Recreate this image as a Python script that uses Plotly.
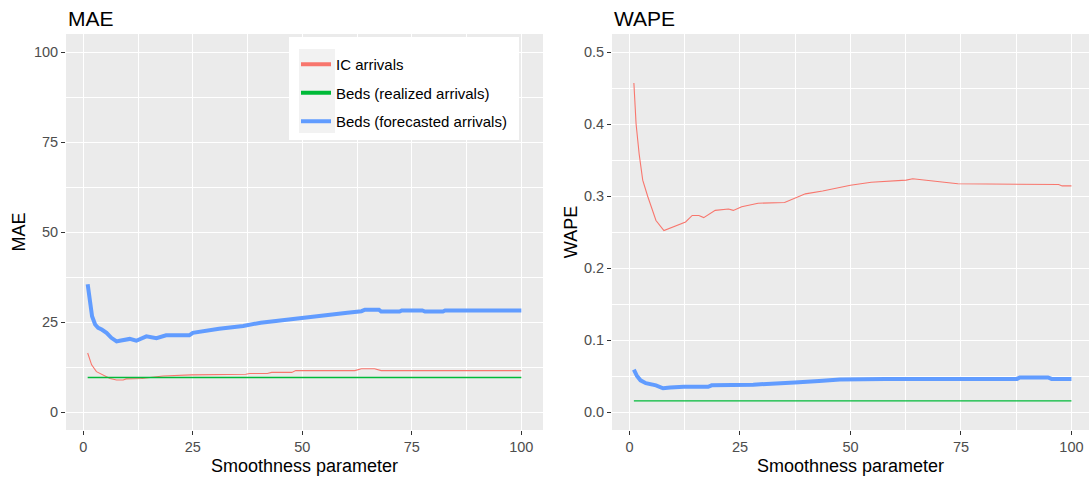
import plotly.graph_objects as go

# ---------------- data ----------------
smooth_ic_mae = [1, 1.9, 3.0, 4.5, 6.1, 7.6, 9.1, 9.8, 13.3, 18.2, 24.6, 37.1, 38, 42, 43, 47.6, 48.5, 62, 63.5, 66.5, 68, 100]
ic_mae = [16.4, 13.1, 11.2, 10.3, 9.3, 8.9, 8.9, 9.2, 9.3, 10.0, 10.3, 10.5, 10.7, 10.7, 11.0, 11.0, 11.5, 11.5, 12.0, 12.0, 11.5, 11.5]

smooth_bedsr_mae = [1, 100]
bedsr_mae = [9.6, 9.6]

smooth_bedsf_mae = [1, 1.7, 2, 2.7, 3.4, 4.2, 5.3, 6.4, 7.6, 8.3, 10.6, 12.1, 14.4, 16.7, 18.9, 24.2, 25,
                    31, 36.5, 40.5, 44.4, 48.4, 52.4, 56.3, 60.3, 63.5, 64.3, 67.5, 68, 72.2, 72.7, 77.4,
                    78, 82.1, 82.6, 100]
bedsf_mae = [35.5, 28.5, 26.6, 24.3, 23.4, 22.9, 22.0, 20.6, 19.6, 19.8, 20.3, 19.8, 21.0, 20.5, 21.3, 21.3, 22.0,
             23.1, 23.9, 24.8, 25.4, 25.9, 26.5, 27.1, 27.6, 28.0, 28.4, 28.4, 27.9, 27.9, 28.2, 28.2,
             27.9, 27.9, 28.2, 28.2]

smooth_ic_wape = [1, 1.5, 2.2, 3.0, 4.1, 6.0, 7.8, 9.7, 12.7, 14.2, 15.7, 16.8, 19.4, 22.4, 23.5, 25.4, 29.1,
                  35.1, 37.4, 39.8, 43.7, 47.6, 50, 54.7, 59.4, 62.6, 64.1, 66.5, 71.2, 74.3, 83, 97.1, 97.9, 100]
ic_wape = [0.457, 0.400, 0.358, 0.322, 0.300, 0.266, 0.252, 0.257, 0.264, 0.273, 0.273, 0.270, 0.280, 0.282,
           0.280, 0.285, 0.290, 0.291, 0.297, 0.303, 0.307, 0.312, 0.315, 0.319, 0.321, 0.322, 0.324, 0.322,
           0.319, 0.317, 0.317, 0.316, 0.314, 0.314]

smooth_bedsr_wape = [1, 100]
bedsr_wape = [0.0155, 0.0155]

smooth_bedsf_wape = [1, 1.7, 2.5, 3.7, 6, 7.6, 9.2, 12.3, 17.8, 18.6, 28, 32.7, 37.4, 42.9, 47.6, 57.8, 87.7,
                     88.3, 94.7, 95.5, 100]
bedsf_wape = [0.059, 0.050, 0.044, 0.040, 0.037, 0.033, 0.034, 0.035, 0.035, 0.037, 0.038, 0.039, 0.041,
              0.043, 0.045, 0.046, 0.046, 0.048, 0.048, 0.046, 0.046]

series_names = ["IC arrivals", "Beds (realized arrivals)", "Beds (forecasted arrivals)"]
x_ticks = [0, 25, 50, 75, 100]
mae_ticks = [0, 25, 50, 75, 100]
wape_ticks = [0.0, 0.1, 0.2, 0.3, 0.4, 0.5]

# ---------------- styling ----------------
RED, GREEN, BLUE = "#F8766D", "#00BA38", "#619CFF"
W, H = 1089, 478
FONT = "Arial, 'Liberation Sans', sans-serif"


def px_x(p):
    return p / W


def px_y(p):
    return (H - p) / H


fig = go.Figure()

# left panel (MAE)
fig.add_trace(go.Scatter(x=smooth_ic_mae, y=ic_mae, mode="lines", line=dict(color=RED, width=1.1),
                         showlegend=False, xaxis="x", yaxis="y"))
fig.add_trace(go.Scatter(x=smooth_bedsr_mae, y=bedsr_mae, mode="lines", line=dict(color=GREEN, width=1.4),
                         showlegend=False, xaxis="x", yaxis="y"))
fig.add_trace(go.Scatter(x=smooth_bedsf_mae, y=bedsf_mae, mode="lines", line=dict(color=BLUE, width=4),
                         showlegend=False, xaxis="x", yaxis="y"))
# right panel (WAPE)
fig.add_trace(go.Scatter(x=smooth_ic_wape, y=ic_wape, mode="lines", line=dict(color=RED, width=1.1),
                         showlegend=False, xaxis="x2", yaxis="y2"))
fig.add_trace(go.Scatter(x=smooth_bedsr_wape, y=bedsr_wape, mode="lines", line=dict(color=GREEN, width=1.4),
                         showlegend=False, xaxis="x2", yaxis="y2"))
fig.add_trace(go.Scatter(x=smooth_bedsf_wape, y=bedsf_wape, mode="lines", line=dict(color=BLUE, width=4),
                         showlegend=False, xaxis="x2", yaxis="y2"))

# legend entries (uniform key thickness like the ggplot legend)
for i, (name, col) in enumerate(zip(series_names, [RED, GREEN, BLUE])):
    fig.add_trace(go.Scatter(x=[None], y=[None], mode="lines", name=name, line=dict(color=col, width=4),
                             legendgroup=f"g{i}", xaxis="x", yaxis="y", showlegend=True))

xdom1 = [px_x(66), px_x(543)]
xdom2 = [px_x(612), 1.0]
ydom = [px_y(430), px_y(34)]

common_axis = dict(
    showgrid=True, gridcolor="white", gridwidth=1.3, zeroline=False, showline=False,
    ticks="outside", ticklen=4, tickwidth=1, tickcolor="#333333",
    tickfont=dict(family=FONT, size=14.5, color="#4D4D4D"),
)
minor_x = dict(tickvals=[12.5, 37.5, 62.5, 87.5], showgrid=True, gridcolor="white", gridwidth=0.6, ticks="")

fig.update_layout(
    width=W, height=H,
    margin=dict(l=0, r=0, t=0, b=0),
    paper_bgcolor="white", plot_bgcolor="#EBEBEB",
    font=dict(family=FONT, color="black"),
    xaxis=dict(domain=xdom1, range=[-3.95, 104.95], tickvals=x_ticks, anchor="y", minor=minor_x,
               title=dict(text="Smoothness parameter", font=dict(size=18, color="black"), standoff=4),
               **common_axis),
    yaxis=dict(domain=ydom, range=[-5, 105], tickvals=mae_ticks, anchor="x",
               minor=dict(tickvals=[12.5, 37.5, 62.5, 87.5], showgrid=True, gridcolor="white", gridwidth=0.6, ticks=""),
               title=dict(text="MAE", font=dict(size=18, color="black"), standoff=3),
               **common_axis),
    xaxis2=dict(domain=xdom2, range=[-3.95, 103.97], tickvals=x_ticks, anchor="y2", minor=minor_x,
                title=dict(text="Smoothness parameter", font=dict(size=18, color="black"), standoff=4),
                **common_axis),
    yaxis2=dict(domain=ydom, range=[-0.025, 0.525], tickvals=wape_ticks, tickformat=".1f", anchor="x2",
                minor=dict(tickvals=[0.05, 0.15, 0.25, 0.35, 0.45], showgrid=True, gridcolor="white",
                           gridwidth=0.6, ticks=""),
                title=dict(text="WAPE", font=dict(size=18, color="black"), standoff=1),
                **common_axis),
    legend=dict(x=px_x(296), y=px_y(48), xanchor="left", yanchor="top",
                bgcolor="rgba(0,0,0,0)", borderwidth=0,
                font=dict(family=FONT, size=15, color="black"),
                tracegroupgap=6, itemwidth=30),
    annotations=[
        dict(text="MAE", x=px_x(66), y=px_y(18), xref="paper", yref="paper", xanchor="left", yanchor="middle",
             showarrow=False, font=dict(family=FONT, size=21, color="black")),
        dict(text="WAPE", x=px_x(612), y=px_y(18), xref="paper", yref="paper", xanchor="left", yanchor="middle",
             showarrow=False, font=dict(family=FONT, size=21, color="black")),
    ],
    shapes=[
        dict(type="rect", xref="paper", yref="paper", x0=px_x(289), x1=px_x(519), y0=px_y(140), y1=px_y(37),
             fillcolor="white", line=dict(width=0), layer="above"),
        dict(type="rect", xref="paper", yref="paper", x0=px_x(299), x1=px_x(335), y0=px_y(133), y1=px_y(49),
             fillcolor="#F2F2F2", line=dict(width=0), layer="above"),
    ],
)

fig.write_html(
    "out.html",
    config={"displayModeBar": False},
    post_script="document.body.style.margin='0px';document.body.style.padding='0px';"
                "document.documentElement.style.overflow='hidden';",
)
